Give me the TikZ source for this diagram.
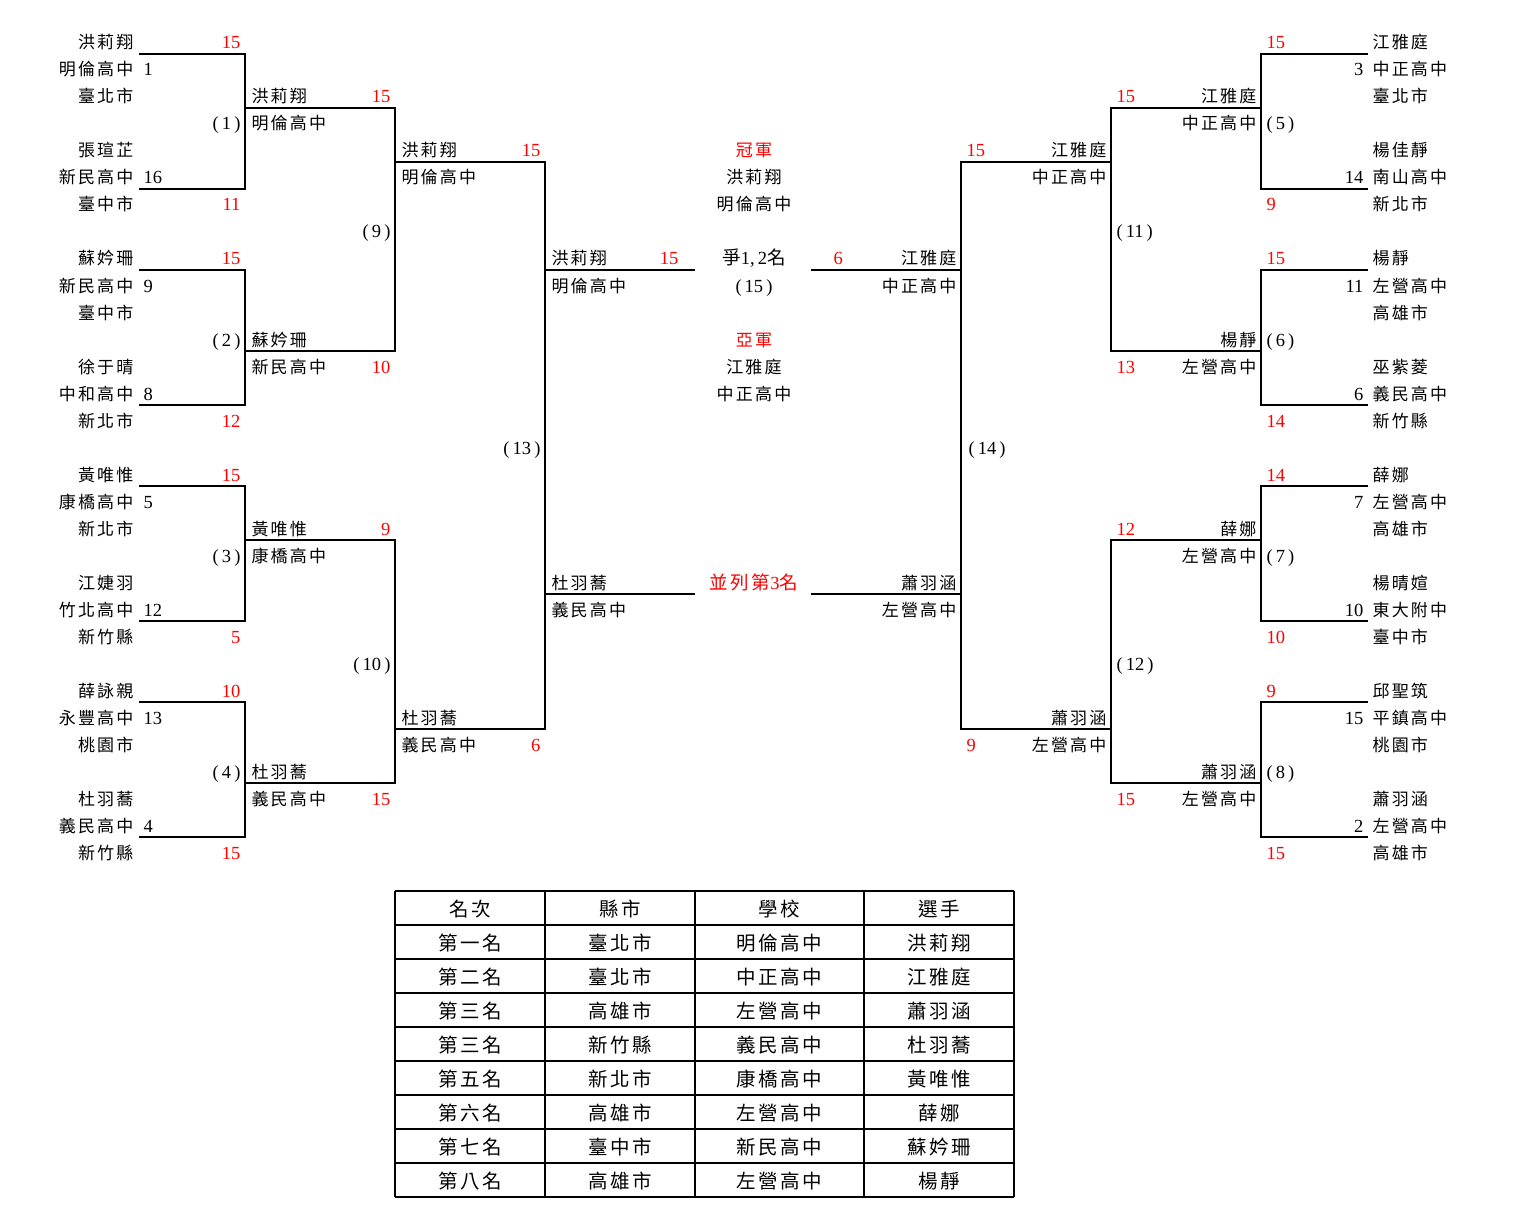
\documentclass[tikz,border=0pt]{standalone}
\usepackage{fontspec}
\setmainfont{Liberation Serif}
\newfontfamily\cjk[LetterSpace=13]{Noto Sans CJK TC}
\newcommand{\yb}[1]{{-49-27*#1}}% baseline of a row
\newcommand{\yl}[1]{{-54-27*#1}}% rule under a row
\tikzset{
  nm/.style={inner sep=0pt,font=\fontsize{17}{20}\selectfont\cjk},
  num/.style={inner sep=0pt,font=\fontsize{18.5}{20}\selectfont},
  sc/.style={num,text=red},
  rt/.style={anchor=base east},
  lt/.style={anchor=base west},
  mid/.style={anchor=base},
  tb/.style={inner sep=0pt,anchor=base,font=\fontsize{19.5}{22}\selectfont\cjk},
}
\begin{document}
\begin{tikzpicture}[x=1pt,y=1pt,line width=1.1pt]
\useasboundingbox (0,0) rectangle (1518,-1225);
% left players
\foreach \r/\t in {0/洪莉翔,1/明倫高中,2/臺北市,4/張瑄芷,5/新民高中,6/臺中市,8/蘇妗珊,9/新民高中,10/臺中市,12/徐于晴,13/中和高中,14/新北市,16/黃唯惟,17/康橋高中,18/新北市,20/江婕羽,21/竹北高中,22/新竹縣,24/薛詠親,25/永豐高中,26/桃園市,28/杜羽蕎,29/義民高中,30/新竹縣}
  \node[nm,rt] (pa\r) at (134,\yb{\r}) {\t};
\foreach \r/\t in {1/1,5/16,9/9,13/8,17/5,21/12,25/13,29/4}
  \node[num,lt] (sd\r) at (143,\yb{\r}) {\t};
\foreach \r/\t in {0/15,6/11,8/15,14/12,16/15,22/5,24/10,30/15}
  \node[sc,rt] (sb\r) at (241,\yb{\r}) {\t};
\foreach \r/\t in {3/1,11/2,19/3,27/4}
  \node[num,rt] (mb\r) at (241,\yb{\r}) {(\,\t\,)};
% left rounds
\foreach \r/\t in {2/洪莉翔,3/明倫高中,11/蘇妗珊,12/新民高中,18/黃唯惟,19/康橋高中,27/杜羽蕎,28/義民高中}
  \node[nm,lt] (pc\r) at (251,\yb{\r}) {\t};
\foreach \r/\t in {2/15,12/10,18/9,28/15}
  \node[sc,rt] (sc\r) at (391,\yb{\r}) {\t};
\foreach \r/\t in {7/9,23/10}
  \node[num,rt] (mc\r) at (391,\yb{\r}) {(\,\t\,)};
\foreach \r/\t in {4/洪莉翔,5/明倫高中,25/杜羽蕎,26/義民高中}
  \node[nm,lt] (pd\r) at (401,\yb{\r}) {\t};
\node[sc,rt] (sd4) at (541,\yb{4}) {15};
\node[sc,rt] (sd26) at (541,\yb{26}) {6};
\node[num,rt] (md15) at (541,\yb{15}) {(\,13\,)};
\foreach \r/\t in {8/洪莉翔,9/明倫高中,20/杜羽蕎,21/義民高中}
  \node[nm,lt] (pe\r) at (551,\yb{\r}) {\t};
\node[sc,rt] (se8) at (679,\yb{8}) {15};
% centre
\node[nm,mid,text=red] (champ) at (754,\yb{4}) {冠軍};
\node[nm,mid] (c5) at (754,\yb{5}) {洪莉翔};
\node[nm,mid] (c6) at (754,\yb{6}) {明倫高中};
\node[num,mid] (fin) at (754,\yb{8}) {{\cjk 爭}1,\,2{\cjk 名}};
\node[num,mid] (m15) at (754,\yb{9}) {(\,15\,)};
\node[nm,mid,text=red] (second) at (754,\yb{11}) {亞軍};
\node[nm,mid] (c12) at (754,\yb{12}) {江雅庭};
\node[nm,mid] (c13) at (754,\yb{13}) {中正高中};
\node[num,mid,text=red] (third) at (754,\yb{20}) {{\cjk 並列第}3{\cjk 名}};
% right rounds
\node[sc,lt] (sf8) at (833,\yb{8}) {6};
\foreach \r/\t in {8/江雅庭,9/中正高中,20/蕭羽涵,21/左營高中}
  \node[nm,rt] (pf\r) at (957,\yb{\r}) {\t};
\node[sc,lt] (sg4) at (966,\yb{4}) {15};
\node[sc,lt] (sg26) at (966,\yb{26}) {9};
\node[num,lt] (mg15) at (968,\yb{15}) {(\,14\,)};
\foreach \r/\t in {4/江雅庭,5/中正高中,25/蕭羽涵,26/左營高中}
  \node[nm,rt] (pg\r) at (1107,\yb{\r}) {\t};
\foreach \r/\t in {2/15,12/13,18/12,28/15}
  \node[sc,lt] (sh\r) at (1116,\yb{\r}) {\t};
\foreach \r/\t in {7/11,23/12}
  \node[num,lt] (mh\r) at (1116,\yb{\r}) {(\,\t\,)};
\foreach \r/\t in {2/江雅庭,3/中正高中,11/楊靜,12/左營高中,18/薛娜,19/左營高中,27/蕭羽涵,28/左營高中}
  \node[nm,rt] (ph\r) at (1257,\yb{\r}) {\t};
% right players
\foreach \r/\t in {0/15,6/9,8/15,14/14,16/14,22/10,24/9,30/15}
  \node[sc,lt] (si\r) at (1266,\yb{\r}) {\t};
\foreach \r/\t in {3/5,11/6,19/7,27/8}
  \node[num,lt] (mi\r) at (1266,\yb{\r}) {(\,\t\,)};
\foreach \r/\t in {1/3,5/14,9/11,13/6,17/7,21/10,25/15,29/2}
  \node[num,rt] (dj\r) at (1364,\yb{\r}) {\t};
\foreach \r/\t in {0/江雅庭,1/中正高中,2/臺北市,4/楊佳靜,5/南山高中,6/新北市,8/楊靜,9/左營高中,10/高雄市,12/巫紫菱,13/義民高中,14/新竹縣,16/薛娜,17/左營高中,18/高雄市,20/楊晴媗,21/東大附中,22/臺中市,24/邱聖筑,25/平鎮高中,26/桃園市,28/蕭羽涵,29/左營高中,30/高雄市}
  \node[nm,lt] (pj\r) at (1372,\yb{\r}) {\t};
% brackets
\foreach \xa/\xb/\ra/\rz in {139/245/0/5,139/245/8/13,139/245/16/21,139/245/24/29,
  245/395/2/11,245/395/18/27,395/545/4/25,
  1368/1261/0/5,1368/1261/8/13,1368/1261/16/21,1368/1261/24/29,
  1261/1111/2/11,1261/1111/18/27,1111/961/4/25}
  \draw (\xa,\yl{\ra}) -- (\xb,\yl{\ra}) -- (\xb,\yl{\rz}) -- (\xa,\yl{\rz});
\draw (545,\yl{8}) -- (695,\yl{8});
\draw (545,\yl{20}) -- (695,\yl{20});
\draw (811,\yl{8}) -- (961,\yl{8});
\draw (811,\yl{20}) -- (961,\yl{20});
% ranking table
\foreach \k in {0,...,9}
  \draw (395,{-891-34*\k}) -- (1014,{-891-34*\k});
\foreach \x in {395,545,695,864,1014}
  \draw (\x,-891) -- (\x,-1197);
\foreach \k/\a/\b/\c/\d in {0/名次/縣市/學校/選手,1/第一名/臺北市/明倫高中/洪莉翔,2/第二名/臺北市/中正高中/江雅庭,3/第三名/高雄市/左營高中/蕭羽涵,4/第三名/新竹縣/義民高中/杜羽蕎,5/第五名/新北市/康橋高中/黃唯惟,6/第六名/高雄市/左營高中/薛娜,7/第七名/臺中市/新民高中/蘇妗珊,8/第八名/高雄市/左營高中/楊靜}{
  \node[tb] (ta\k) at (470,{-916-34*\k}) {\a};
  \node[tb] (tb\k) at (620,{-916-34*\k}) {\b};
  \node[tb] (tc\k) at (779.5,{-916-34*\k}) {\c};
  \node[tb] (td\k) at (939,{-916-34*\k}) {\d};
}
\end{tikzpicture}
\end{document}
